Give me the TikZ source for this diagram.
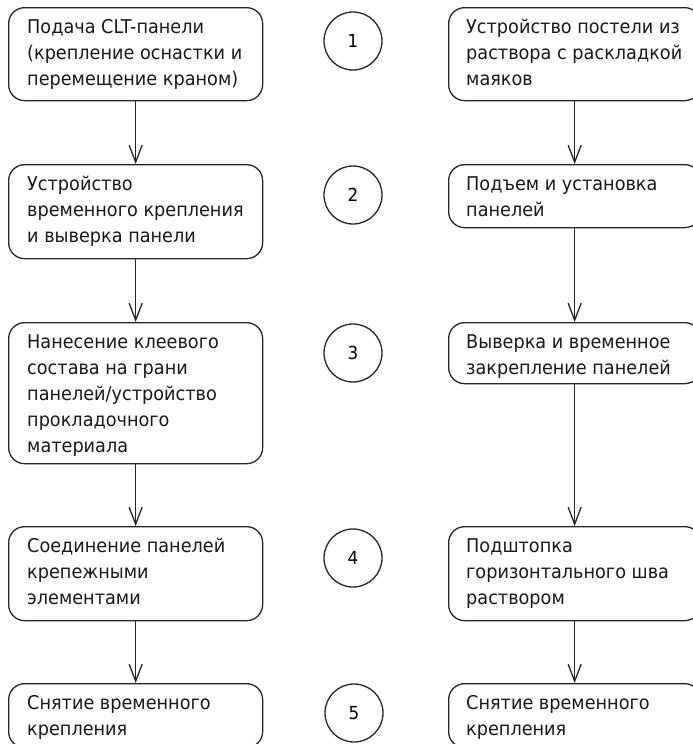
\documentclass[tikz,border=0pt]{standalone}
\usepackage{fontspec}
\setmainfont{DejaVu Sans}[FakeStretch=0.93]
\usetikzlibrary{arrows.meta}
\tikzset{
  box/.style={draw=black!85, line width=1.3pt, rounded corners=16pt, anchor=north west, inner sep=0pt, minimum width=#1},
  box/.default=254pt,
  txt/.style={anchor=north west, inner sep=0pt, align=left, font=\fontsize{19}{26}\selectfont, text=black!90},
  num/.style={draw=black!85, line width=1.3pt, circle, minimum size=58pt, inner sep=0pt, font=\fontsize{18}{20}\selectfont},
  arr/.style={draw=black!85, line width=1.3pt, -{Straight Barb[length=17pt, width=13pt, line width=1.3pt]}}
}
\newcommand{\fs}{\rule{0pt}{20pt}}
\begin{document}
\begin{tikzpicture}[x=1pt, y=-1pt]
\useasboundingbox (0,0) rectangle (693,744);
\clip (0,0) rectangle (693,744);
% left column
\node[box, minimum height=93pt] (L1) at (8,7) {};
\node[box, minimum height=94pt] (L2) at (8,164) {};
\node[box, minimum height=141pt] (L3) at (8,322) {};
\node[box, minimum height=94pt] (L4) at (8,526) {};
\node[box, minimum height=64pt] (L5) at (8,683) {};
\node[txt] (tL1) at (27,13) {\fs Подача CLT-панели\\(крепление оснастки и\\перемещение краном)};
\node[txt] (tL2) at (27,170) {\fs Устройство\\временного крепления\\и выверка панели};
\node[txt] (tL3) at (27,328) {\fs Нанесение клеевого\\состава на грани\\панелей/устройство\\прокладочного\\материала};
\node[txt] (tL4) at (27,532) {\fs Соединение панелей\\крепежными\\элементами};
\node[txt] (tL5) at (27,689) {\fs Снятие временного\\крепления};
% right column
\node[box=252pt, minimum height=93pt] (R1) at (448,7) {};
\node[box=252pt, minimum height=63pt] (R2) at (448,164) {};
\node[box=252pt, minimum height=61pt] (R3) at (448,322) {};
\node[box=252pt, minimum height=94pt] (R4) at (448,526) {};
\node[box=252pt, minimum height=64pt] (R5) at (448,683) {};
\node[txt] (tR1) at (466,13) {\fs Устройство постели из\\раствора с раскладкой\\маяков};
\node[txt] (tR2) at (466,170) {\fs Подъем и установка\\панелей};
\node[txt] (tR3) at (466,328) {\fs Выверка и временное\\закрепление панелей};
\node[txt] (tR4) at (466,532) {\fs Подштопка\\горизонтального шва\\раствором};
\node[txt] (tR5) at (466,689) {\fs Снятие временного\\крепления};
% circles
\node[num] (C1) at (353,41) {1};
\node[num] (C2) at (353,195) {2};
\node[num] (C3) at (353,353) {3};
\node[num] (C4) at (353,558) {4};
\node[num] (C5) at (354,713) {5};
% arrows
\draw[arr] (L1.south) -- (L2.north);
\draw[arr] (L2.south) -- (L3.north);
\draw[arr] (L3.south) -- (L4.north);
\draw[arr] (L4.south) -- (L5.north);
\draw[arr] (R1.south) -- (R2.north);
\draw[arr] (R2.south) -- (R3.north);
\draw[arr] (R3.south) -- (R4.north);
\draw[arr] (R4.south) -- (R5.north);
\end{tikzpicture}
\end{document}
